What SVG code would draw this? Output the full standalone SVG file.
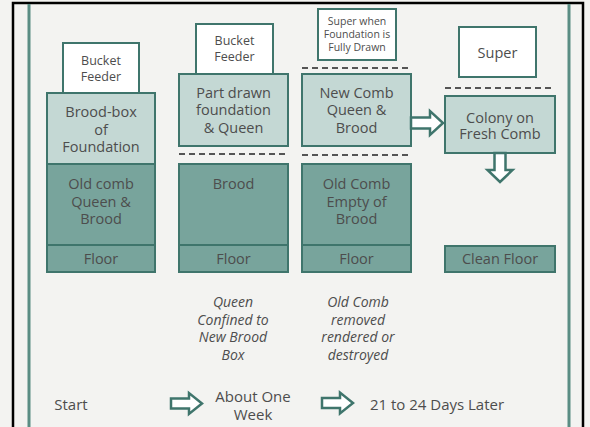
<svg xmlns="http://www.w3.org/2000/svg" width="590" height="427" viewBox="0 0 590 427">
<style>
.t{font-family:"Open Sans","Noto Sans",sans-serif;fill:#4d4d4d;text-anchor:middle;dominant-baseline:central}
.b{font-size:14.5px}
.s{font-size:12.5px}
.xs{font-size:10.5px}
.i{font-size:14px;font-style:italic}
.w{fill:#ffffff;stroke:#3f756c;stroke-width:2}
.l{fill:#c4d8d4;stroke:#3f756c;stroke-width:2}
.d{fill:#78a49c;stroke:#3f756c;stroke-width:2}
.dash{stroke:#555;stroke-width:2;stroke-dasharray:6 4;fill:none}
.arr{fill:#ffffff;stroke:#3f756c;stroke-width:2.5;stroke-linejoin:miter}
</style>
<rect x="0" y="0" width="590" height="427" fill="#f3f3f1"/>
<g id="frame">
<path d="M13,427 V3 H583 V427" fill="none" stroke="#000" stroke-width="2.5"/>
<line x1="29" y1="4" x2="29" y2="427" stroke="#5a8d84" stroke-width="3"/>
<line x1="569" y1="4" x2="569" y2="427" stroke="#5a8d84" stroke-width="3"/>
</g>
<g id="col1">
<g id="c1-feeder"><rect class="w" x="63" y="43" width="76" height="50"/><text class="t s" x="101" y="60">Bucket</text><text class="t s" x="101" y="76">Feeder</text></g>
<g id="c1-broodbox"><rect class="l" x="47" y="93" width="108" height="71"/><text class="t b" x="101" y="111">Brood-box</text><text class="t b" x="101" y="129">of</text><text class="t b" x="101" y="146">Foundation</text></g>
<g id="c1-oldcomb"><rect class="d" x="47" y="164" width="108" height="81"/><text class="t b" x="101" y="183">Old comb</text><text class="t b" x="101" y="201">Queen &amp;</text><text class="t b" x="101" y="218">Brood</text></g>
<g id="c1-floor"><rect class="d" x="47" y="245" width="108" height="27"/><text class="t b" x="101" y="258">Floor</text></g>
</g>
<g id="col2">
<g id="c2-feeder"><rect class="w" x="196" y="24" width="77" height="50"/><text class="t s" x="234.5" y="40">Bucket</text><text class="t s" x="234.5" y="56">Feeder</text></g>
<g id="c2-partdrawn"><rect class="l" x="179" y="74" width="109" height="72"/><text class="t b" x="233.5" y="92">Part drawn</text><text class="t b" x="233.5" y="109">foundation</text><text class="t b" x="233.5" y="127">&amp; Queen</text></g>
<g id="c2-brood"><rect class="d" x="179" y="164" width="109" height="81"/><text class="t b" x="233.5" y="183">Brood</text></g>
<g id="c2-floor"><rect class="d" x="179" y="245" width="109" height="27"/><text class="t b" x="233.5" y="258">Floor</text></g>
<g id="c2-caption"><text class="t i" x="233" y="301">Queen</text><text class="t i" x="233" y="319">Confined to</text><text class="t i" x="233" y="336">New Brood</text><text class="t i" x="233" y="354">Box</text></g>
</g>
<g id="col3">
<g id="c3-super"><rect class="w" x="318" y="9" width="78" height="51"/><text class="t xs" x="357" y="21">Super when</text><text class="t xs" x="357" y="34">Foundation is</text><text class="t xs" x="357" y="47">Fully Drawn</text></g>
<g id="c3-newcomb"><rect class="l" x="302" y="74" width="109" height="72"/><text class="t b" x="356.5" y="92">New Comb</text><text class="t b" x="356.5" y="109">Queen &amp;</text><text class="t b" x="356.5" y="127">Brood</text></g>
<g id="c3-oldcomb"><rect class="d" x="302" y="164" width="109" height="81"/><text class="t b" x="356.5" y="183">Old Comb</text><text class="t b" x="356.5" y="201">Empty of</text><text class="t b" x="356.5" y="218">Brood</text></g>
<g id="c3-floor"><rect class="d" x="302" y="245" width="109" height="27"/><text class="t b" x="356.5" y="258">Floor</text></g>
<g id="c3-caption"><text class="t i" x="358" y="301">Old Comb</text><text class="t i" x="358" y="319">removed</text><text class="t i" x="358" y="336">rendered or</text><text class="t i" x="358" y="354">destroyed</text></g>
</g>
<g id="col4">
<g id="c4-super"><rect class="w" x="459" y="27" width="77" height="50"/><text class="t b" x="497.5" y="52">Super</text></g>
<g id="c4-colony"><rect class="l" x="445" y="96" width="110" height="57"/><text class="t b" x="500" y="117">Colony on</text><text class="t b" x="500" y="133">Fresh Comb</text></g>
<g id="c4-cleanfloor"><rect class="d" x="445" y="246" width="110" height="26"/><text class="t b" x="500" y="258">Clean Floor</text></g>
</g>
<g id="dividers">
<line class="dash" x1="179" y1="154" x2="288" y2="154"/>
<line class="dash" x1="302" y1="68" x2="411" y2="68"/>
<line class="dash" x1="302" y1="155" x2="411" y2="155"/>
<line class="dash" x1="445" y1="88" x2="555" y2="88"/>
</g>
<g id="connectors">
<path class="arr" d="M411,117.5 H430 V111 L443,123 L430,135 V128.5 H411 Z"/>
<path class="arr" d="M494.5,153 V170 H487.5 L500,182 L512.5,170 H505.5 V153 Z"/>
<path class="arr" d="M171,398.5 H189 V393 L202,403.5 L189,414 V408.5 H171 Z"/>
<path class="arr" d="M322,398 H340 V392.5 L353,403 L340,413.5 V408 H322 Z"/>
</g>
<g id="timeline">
<text class="t b" x="71" y="404" style="font-size:15px">Start</text>
<text class="t b" x="253" y="396" style="font-size:15px">About One</text>
<text class="t b" x="253" y="414" style="font-size:15px">Week</text>
<text class="t b" x="437" y="404" style="font-size:15px">21 to 24 Days Later</text>
</g>
</svg>
